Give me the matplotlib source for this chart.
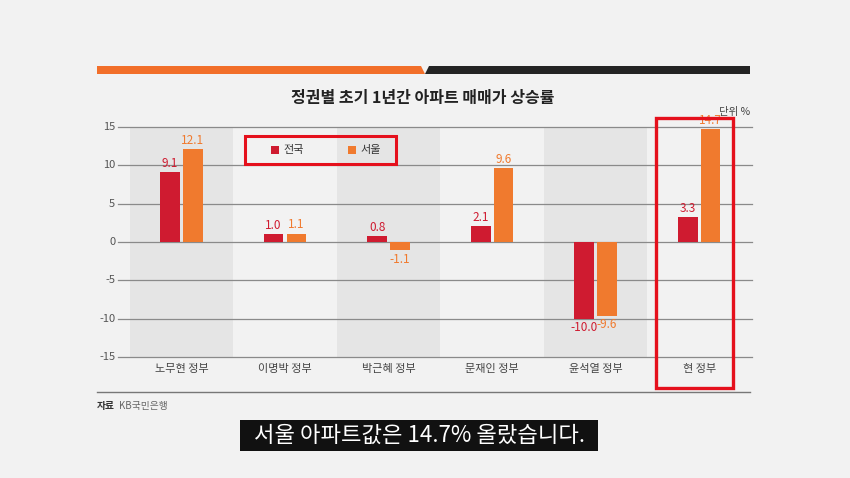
import matplotlib
matplotlib.use('Agg')
import matplotlib.pyplot as plt
from matplotlib.patches import Rectangle, Polygon
import numpy as np

plt.rcParams['font.family'] = ['Noto Sans CJK KR', 'DejaVu Sans']

# 데이터
categories = ['노무현 정부', '이명박 정부', '박근혜 정부', '문재인 정부', '윤석열 정부', '현 정부']
nation = [9.1, 1.0, 0.8, 2.1, -10.0, 3.3]
seoul = [12.1, 1.1, -1.1, 9.6, -9.6, 14.7]
yticks = [15, 10, 5, 0, -5, -10, -15]

RED = '#cf1b30'
ORANGE = '#f07a2e'
BG = '#f2f2f2'
BAND = '#e5e5e5'
HL = '#e5101c'

W, H = 850, 478


def px(x, y):
    # 픽셀 좌표 -> figure 좌표
    return x / W, 1 - y / H


fig = plt.figure(figsize=(8.5, 4.78), dpi=100, facecolor=BG)
ax = fig.add_axes([118 / W, 1 - 357 / H, 634 / W, 230 / H])
ax.set_facecolor('none')
ax.set_xlim(-0.613, 5.51)
ax.set_ylim(-15, 15)
for s in ax.spines.values():
    s.set_visible(False)
ax.set_xticks([])
ax.set_yticks([])

# 회색 띠
for i in range(len(categories)):
    if i % 2 == 0:
        ax.axvspan(i - 0.5, i + 0.5, color=BAND, zorder=0, lw=0)

for t in yticks:
    ax.axhline(t, color='#8a8a8a', lw=0.9, zorder=1, clip_on=False)
    ax.text(-0.64, t, str(t), ha='right', va='center', fontsize=8, color='#555555')

x = np.arange(len(categories))
bw = 0.19
ax.bar(x - 0.11, nation, bw, color=RED, zorder=3)
ax.bar(x + 0.11, seoul, bw, color=ORANGE, zorder=3)

for xi, v in zip(x - 0.11, nation):
    ax.annotate(f'{v:.1f}', (xi, v), xytext=(0, 1.5 if v >= 0 else -1.5), textcoords='offset points',
                ha='center', va='bottom' if v >= 0 else 'top', fontsize=8.5, color=RED, zorder=4)
for xi, v in zip(x + 0.11, seoul):
    ax.annotate(f'{v:.1f}', (xi, v), xytext=(0, 1.5 if v >= 0 else -1.5), textcoords='offset points',
                ha='center', va='bottom' if v >= 0 else 'top', fontsize=8.5, color=ORANGE, zorder=4)

for xi, c in zip(x, categories):
    ax.text(xi, -16.6, c, ha='center', va='center', fontsize=8, color='#444444')

# 상단 띠
ob = [px(97, 66), px(421, 66), px(425, 74), px(97, 74)]
db = [px(429, 66), px(750, 66), px(750, 74), px(425, 74)]
fig.patches.append(Polygon(ob, closed=True, transform=fig.transFigure, color='#f26f2a', lw=0))
fig.patches.append(Polygon(db, closed=True, transform=fig.transFigure, color='#242424', lw=0))

fig.text(*px(423, 98), '정권별 초기 1년간 아파트 매매가 상승률', ha='center', va='center',
         fontsize=11.5, fontweight='bold', color='#222222')
fig.text(*px(750, 112), '단위 %', ha='right', va='center', fontsize=7.5, color='#444444')

# 범례
fig.patches.append(Rectangle(px(245, 164), 151 / W, 28 / H, transform=fig.transFigure,
                             fill=False, edgecolor=HL, lw=2.2))
fig.patches.append(Rectangle(px(271, 154), 8 / W, 8 / H, transform=fig.transFigure, color=RED, lw=0))
fig.text(*px(283, 150), '전국', ha='left', va='center', fontsize=8, color='#333333')
fig.patches.append(Rectangle(px(348, 154), 8 / W, 8 / H, transform=fig.transFigure, color=ORANGE, lw=0))
fig.text(*px(360, 150), '서울', ha='left', va='center', fontsize=8, color='#333333')

# 강조 박스
fig.patches.append(Rectangle(px(656, 388), 77 / W, 270 / H, transform=fig.transFigure,
                             fill=False, edgecolor=HL, lw=2.4))

# 하단 선과 출처
fig.add_artist(plt.Line2D([97 / W, 750 / W], [1 - 392 / H, 1 - 392 / H], color='#777777', lw=1))
fig.text(*px(97, 406), '자료', ha='left', va='center', fontsize=7, fontweight='bold', color='#333333')
fig.text(*px(119, 406), 'KB국민은행', ha='left', va='center', fontsize=7, color='#666666')

# 자막
fig.patches.append(Rectangle(px(240, 451), 358 / W, 31 / H, transform=fig.transFigure,
                             color='#111111', lw=0))
fig.text(*px(419, 435), '서울 아파트값은 14.7% 올랐습니다.', ha='center', va='center',
         fontsize=16, fontweight='light', color='white')

fig.savefig('out.png', dpi=100, facecolor=BG)
